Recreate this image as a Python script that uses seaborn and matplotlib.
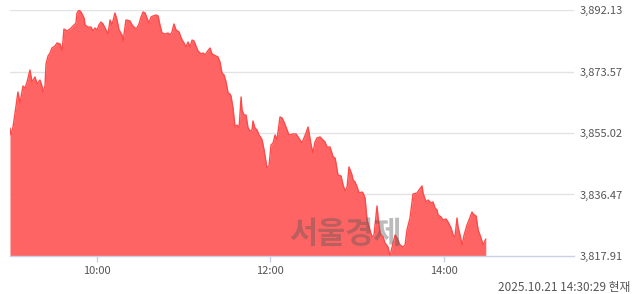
import matplotlib
matplotlib.use("Agg")
import matplotlib.pyplot as plt
import seaborn as sns
import pandas as pd

# minutes since 09:00
minutes = [0.0, 0.7, 2.1, 3.5, 5.5, 6.9, 9.0, 10.4, 11.8, 13.8, 15.2, 17.3, 18.7, 20.7, 22.1, 22.8,
           24.2, 24.9, 26.3, 27.7, 29.0, 31.1, 32.5, 34.6, 36.0, 36.7, 37.3, 39.4, 41.5, 42.9, 45.0,
           45.6, 46.3, 47.7, 49.1, 51.2, 51.9, 53.9, 56.0, 57.4, 58.8, 60.2, 61.5, 62.9, 64.3, 66.4,
           67.8, 69.2, 70.5, 72.6, 74.0, 75.4, 77.5, 78.1, 80.2, 83.0, 84.4, 86.4, 87.8, 89.2, 90.6,
           92.0, 93.4, 94.7, 96.1, 97.5, 98.9, 101.0, 102.4, 103.7, 105.1, 107.2, 109.3, 110.7, 112.0,
           113.4, 114.8, 116.9, 118.3, 120.3, 121.7, 123.1, 124.5, 125.9, 127.2, 128.6, 130.0, 132.1,
           133.5, 134.9, 136.2, 138.3, 139.7, 141.1, 142.5, 143.8, 145.2, 146.6, 148.0, 149.4, 150.8,
           152.1, 152.8, 154.2, 155.6, 157.0, 158.4, 159.8, 160.4, 161.8, 163.2, 164.6, 166.0, 167.4,
           168.0, 169.4, 170.8, 172.2, 173.6, 174.3, 175.7, 177.7, 179.1, 180.5, 181.9, 183.3, 184.6,
           186.7, 188.1, 189.5, 191.6, 192.9, 195.7, 197.8, 199.2, 200.6, 201.9, 203.3, 204.7, 206.1,
           208.2, 209.5, 210.9, 212.3, 214.4, 216.5, 217.8, 219.2, 221.3, 223.4, 224.8, 226.8, 228.9,
           230.3, 231.7, 233.1, 234.4, 236.5, 237.2, 238.6, 240.0, 241.4, 243.4, 244.1, 245.5, 246.9,
           248.3, 250.3, 251.7, 253.8, 254.5, 255.9, 258.0, 259.3, 261.4, 262.8, 264.9, 266.3, 267.6,
           269.7, 271.8, 273.2, 274.5, 276.6, 278.7, 281.5, 282.8, 284.9, 285.6, 287.7, 289.1, 291.2,
           292.5, 293.9, 295.3, 296.0, 298.1, 299.4, 301.5, 302.9, 305.0, 306.4, 307.7, 309.1, 309.8,
           311.2, 312.6, 314.0, 316.0, 317.4, 319.5, 320.2, 322.3, 323.7, 325.7, 327.1, 329.0]

kospi = [3856.53, 3854.42, 3856.83, 3861.06, 3867.39, 3864.07, 3869.20, 3868.60, 3870.41, 3874.03,
         3870.41, 3871.92, 3869.81, 3871.01, 3869.20, 3867.39, 3869.20, 3875.84, 3878.25, 3879.16,
         3880.67, 3881.27, 3882.18, 3881.88, 3879.76, 3883.08, 3886.40, 3885.80, 3886.40, 3887.00,
         3887.91, 3888.21, 3891.23, 3892.13, 3891.53, 3889.72, 3887.61, 3887.00, 3887.00, 3885.80,
         3886.70, 3886.10, 3887.61, 3888.51, 3887.91, 3886.10, 3884.89, 3889.12, 3887.61, 3891.23,
         3889.12, 3886.10, 3884.59, 3882.48, 3889.12, 3888.81, 3887.61, 3886.70, 3886.70, 3887.91,
         3890.02, 3891.53, 3891.23, 3889.72, 3888.21, 3890.02, 3890.32, 3890.62, 3890.32, 3887.61,
         3885.19, 3884.89, 3885.19, 3884.59, 3885.50, 3887.91, 3886.10, 3885.50, 3883.69, 3882.18,
         3880.97, 3882.48, 3880.97, 3883.08, 3882.78, 3881.27, 3879.76, 3878.86, 3879.16, 3878.56,
         3879.46, 3880.67, 3878.86, 3878.56, 3878.25, 3877.95, 3876.44, 3873.13, 3872.52, 3870.41,
         3867.09, 3866.79, 3866.19, 3862.57, 3856.83, 3857.44, 3856.53, 3865.89, 3861.96, 3860.45,
         3860.45, 3856.53, 3855.63, 3855.93, 3858.64, 3856.53, 3855.93, 3854.42, 3853.52, 3852.91,
         3849.89, 3844.46, 3845.07, 3851.40, 3852.01, 3854.42, 3852.91, 3859.85, 3859.55, 3858.34,
         3855.93, 3854.42, 3854.72, 3854.72, 3853.82, 3852.91, 3852.01, 3853.52, 3855.02, 3856.83,
         3851.40, 3848.99, 3852.31, 3853.52, 3853.82, 3852.91, 3852.31, 3850.80, 3850.80, 3847.78,
         3847.48, 3842.35, 3842.05, 3839.34, 3837.53, 3838.73, 3844.77, 3842.35, 3840.84, 3840.24,
         3838.73, 3836.92, 3837.22, 3836.92, 3835.41, 3828.78, 3826.66, 3823.65, 3824.25, 3833.00,
         3829.68, 3824.85, 3823.65, 3821.84, 3820.63, 3817.91, 3821.84, 3824.25, 3823.35, 3821.23,
         3820.63, 3821.23, 3825.76, 3829.38, 3836.62, 3836.92, 3837.83, 3839.03, 3836.92, 3834.21,
         3834.81, 3833.90, 3834.21, 3832.40, 3831.79, 3830.28, 3829.68, 3828.78, 3829.08, 3828.17,
         3826.36, 3824.25, 3823.65, 3829.38, 3826.66, 3824.25, 3821.23, 3824.25, 3827.27, 3828.78,
         3831.19, 3830.59, 3829.98, 3825.76, 3823.35, 3821.23, 3823.04]

y_ticks = [3817.91, 3836.47, 3855.02, 3873.57, 3892.13]
y_tick_labels = ["3,817.91", "3,836.47", "3,855.02", "3,873.57", "3,892.13"]
x_ticks = [60, 180, 300]
x_tick_labels = ["10:00", "12:00", "14:00"]
stamp = "2025.10.21 14:30:29 현재"
watermark = "서울경제"

df = pd.DataFrame({"minute": minutes, "value": kospi})

sns.set_style("white")
plt.rcParams["font.family"] = ["Noto Sans CJK KR", "DejaVu Sans"]

fig = plt.figure(figsize=(6.4, 2.94), dpi=100)
ax = fig.add_axes([10 / 640, 38 / 294, 564 / 640, 246 / 294])

ymin, ymax = y_ticks[0], y_ticks[-1]
ax.set_xlim(0, 390)
ax.set_ylim(ymin, ymax)

for t in y_ticks[1:]:
    ax.axhline(t, color="#e3e3e3", lw=1.0, zorder=0)

ax.fill_between(df["minute"], df["value"], ymin, color="#ff6464", lw=0, zorder=2)
sns.lineplot(data=df, x="minute", y="value", ax=ax, color="#ff4a4a", lw=1.0, zorder=3)

for s in ["top", "left", "right"]:
    ax.spines[s].set_visible(False)
ax.spines["bottom"].set_color("#c9d1e3")
ax.spines["bottom"].set_linewidth(1.0)
ax.spines["bottom"].set_zorder(4)

ax.set_xticks(x_ticks)
ax.set_xticklabels(x_tick_labels)
ax.tick_params(axis="x", length=4, width=1, color="#c9d1e3", labelsize=8,
               labelcolor="#555555", pad=3, bottom=True)
ax.set_yticks(y_ticks)
ax.set_yticklabels(y_tick_labels)
ax.yaxis.tick_right()
ax.tick_params(axis="y", length=0, labelsize=8, labelcolor="#555555", pad=4)
ax.set_xlabel("")
ax.set_ylabel("")

fig.text(345 / 640, 1 - 234 / 294, watermark, fontsize=22, fontweight="bold",
         color="#555555", alpha=0.4, ha="center", va="center", zorder=5)

fig.text(630 / 640, 1 - 287 / 294, stamp, fontsize=8.5, color="#555555",
         ha="right", va="center")

fig.savefig("out.png", dpi=100)
